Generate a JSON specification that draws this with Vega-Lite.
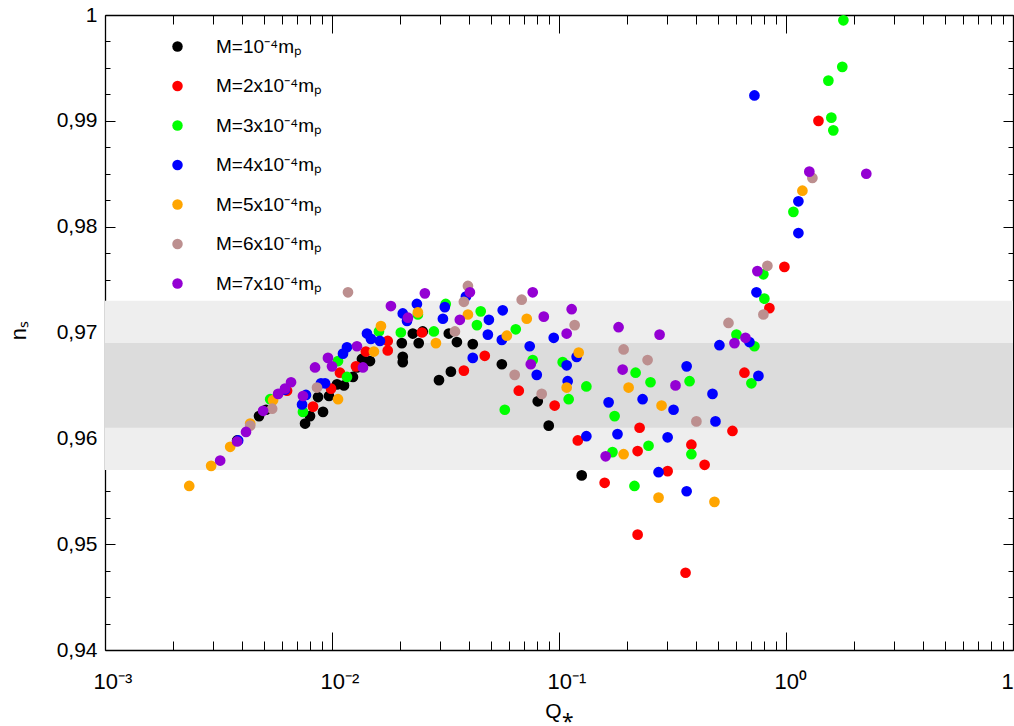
{
  "$schema": "https://vega.github.io/schema/vega-lite/v6.json",
  "width": 908,
  "height": 635,
  "autosize": {"type": "none"},
  "padding": {"left": 105, "top": 15, "right": 1, "bottom": 76},
  "background": "white",
  "config": {
    "view": {"stroke": null},
    "font": "Liberation Sans",
    "axis": {"grid": false, "domainColor": "#000000", "domainWidth": 1.3, "tickColor": "#000000", "tickWidth": 1, "labelColor": "#000000", "titleColor": "#000000", "labelFont": "Liberation Sans", "titleFont": "Liberation Sans", "titleFontWeight": "normal"}
  },
  "datasets": {
    "pts": [
      {"Q": 0.00382, "ns": 0.9598, "M": "M=10⁻⁴mₚ"},
      {"Q": 0.00477, "ns": 0.9621, "M": "M=10⁻⁴mₚ"},
      {"Q": 0.00512, "ns": 0.9627, "M": "M=10⁻⁴mₚ"},
      {"Q": 0.00761, "ns": 0.9614, "M": "M=10⁻⁴mₚ"},
      {"Q": 0.0080, "ns": 0.9621, "M": "M=10⁻⁴mₚ"},
      {"Q": 0.00868, "ns": 0.9639, "M": "M=10⁻⁴mₚ"},
      {"Q": 0.00913, "ns": 0.9625, "M": "M=10⁻⁴mₚ"},
      {"Q": 0.0097, "ns": 0.9640, "M": "M=10⁻⁴mₚ"},
      {"Q": 0.01052, "ns": 0.9651, "M": "M=10⁻⁴mₚ"},
      {"Q": 0.01129, "ns": 0.9650, "M": "M=10⁻⁴mₚ"},
      {"Q": 0.01237, "ns": 0.9658, "M": "M=10⁻⁴mₚ"},
      {"Q": 0.01288, "ns": 0.9667, "M": "M=10⁻⁴mₚ"},
      {"Q": 0.01355, "ns": 0.9675, "M": "M=10⁻⁴mₚ"},
      {"Q": 0.0147, "ns": 0.9673, "M": "M=10⁻⁴mₚ"},
      {"Q": 0.0203, "ns": 0.9690, "M": "M=10⁻⁴mₚ"},
      {"Q": 0.0205, "ns": 0.9677, "M": "M=10⁻⁴mₚ"},
      {"Q": 0.0205, "ns": 0.9672, "M": "M=10⁻⁴mₚ"},
      {"Q": 0.0227, "ns": 0.9699, "M": "M=10⁻⁴mₚ"},
      {"Q": 0.0241, "ns": 0.9690, "M": "M=10⁻⁴mₚ"},
      {"Q": 0.0251, "ns": 0.9701, "M": "M=10⁻⁴mₚ"},
      {"Q": 0.0296, "ns": 0.9655, "M": "M=10⁻⁴mₚ"},
      {"Q": 0.0327, "ns": 0.9699, "M": "M=10⁻⁴mₚ"},
      {"Q": 0.0334, "ns": 0.9663, "M": "M=10⁻⁴mₚ"},
      {"Q": 0.0355, "ns": 0.9691, "M": "M=10⁻⁴mₚ"},
      {"Q": 0.0417, "ns": 0.9689, "M": "M=10⁻⁴mₚ"},
      {"Q": 0.0560, "ns": 0.9670, "M": "M=10⁻⁴mₚ"},
      {"Q": 0.0806, "ns": 0.9635, "M": "M=10⁻⁴mₚ"},
      {"Q": 0.0901, "ns": 0.9612, "M": "M=10⁻⁴mₚ"},
      {"Q": 0.1259, "ns": 0.9565, "M": "M=10⁻⁴mₚ"},

      {"Q": 0.00634, "ns": 0.9645, "M": "M=2x10⁻⁴mₚ"},
      {"Q": 0.00825, "ns": 0.9630, "M": "M=2x10⁻⁴mₚ"},
      {"Q": 0.0099, "ns": 0.9647, "M": "M=2x10⁻⁴mₚ"},
      {"Q": 0.01084, "ns": 0.9662, "M": "M=2x10⁻⁴mₚ"},
      {"Q": 0.01275, "ns": 0.9668, "M": "M=2x10⁻⁴mₚ"},
      {"Q": 0.0141, "ns": 0.9682, "M": "M=2x10⁻⁴mₚ"},
      {"Q": 0.0176, "ns": 0.9692, "M": "M=2x10⁻⁴mₚ"},
      {"Q": 0.0176, "ns": 0.9683, "M": "M=2x10⁻⁴mₚ"},
      {"Q": 0.0249, "ns": 0.9700, "M": "M=2x10⁻⁴mₚ"},
      {"Q": 0.0381, "ns": 0.9664, "M": "M=2x10⁻⁴mₚ"},
      {"Q": 0.0471, "ns": 0.9678, "M": "M=2x10⁻⁴mₚ"},
      {"Q": 0.0665, "ns": 0.9645, "M": "M=2x10⁻⁴mₚ"},
      {"Q": 0.0957, "ns": 0.9631, "M": "M=2x10⁻⁴mₚ"},
      {"Q": 0.121, "ns": 0.9598, "M": "M=2x10⁻⁴mₚ"},
      {"Q": 0.1589, "ns": 0.9558, "M": "M=2x10⁻⁴mₚ"},
      {"Q": 0.222, "ns": 0.9509, "M": "M=2x10⁻⁴mₚ"},
      {"Q": 0.2265, "ns": 0.9610, "M": "M=2x10⁻⁴mₚ"},
      {"Q": 0.222, "ns": 0.9588, "M": "M=2x10⁻⁴mₚ"},
      {"Q": 0.301, "ns": 0.9569, "M": "M=2x10⁻⁴mₚ"},
      {"Q": 0.361, "ns": 0.9473, "M": "M=2x10⁻⁴mₚ"},
      {"Q": 0.383, "ns": 0.9594, "M": "M=2x10⁻⁴mₚ"},
      {"Q": 0.438, "ns": 0.9575, "M": "M=2x10⁻⁴mₚ"},
      {"Q": 0.581, "ns": 0.9607, "M": "M=2x10⁻⁴mₚ"},
      {"Q": 0.656, "ns": 0.9662, "M": "M=2x10⁻⁴mₚ"},
      {"Q": 0.845, "ns": 0.9723, "M": "M=2x10⁻⁴mₚ"},
      {"Q": 0.984, "ns": 0.9762, "M": "M=2x10⁻⁴mₚ"},
      {"Q": 1.39, "ns": 0.9900, "M": "M=2x10⁻⁴mₚ"},

      {"Q": 0.00534, "ns": 0.9637, "M": "M=3x10⁻⁴mₚ"},
      {"Q": 0.00745, "ns": 0.9625, "M": "M=3x10⁻⁴mₚ"},
      {"Q": 0.01063, "ns": 0.9673, "M": "M=3x10⁻⁴mₚ"},
      {"Q": 0.01164, "ns": 0.9658, "M": "M=3x10⁻⁴mₚ"},
      {"Q": 0.0161, "ns": 0.9701, "M": "M=3x10⁻⁴mₚ"},
      {"Q": 0.0201, "ns": 0.9700, "M": "M=3x10⁻⁴mₚ"},
      {"Q": 0.0239, "ns": 0.9717, "M": "M=3x10⁻⁴mₚ"},
      {"Q": 0.0281, "ns": 0.9701, "M": "M=3x10⁻⁴mₚ"},
      {"Q": 0.0317, "ns": 0.9727, "M": "M=3x10⁻⁴mₚ"},
      {"Q": 0.0452, "ns": 0.9720, "M": "M=3x10⁻⁴mₚ"},
      {"Q": 0.0435, "ns": 0.9707, "M": "M=3x10⁻⁴mₚ"},
      {"Q": 0.0645, "ns": 0.9703, "M": "M=3x10⁻⁴mₚ"},
      {"Q": 0.0766, "ns": 0.9674, "M": "M=3x10⁻⁴mₚ"},
      {"Q": 0.1038, "ns": 0.9672, "M": "M=3x10⁻⁴mₚ"},
      {"Q": 0.0577, "ns": 0.9627, "M": "M=3x10⁻⁴mₚ"},
      {"Q": 0.1103, "ns": 0.9637, "M": "M=3x10⁻⁴mₚ"},
      {"Q": 0.132, "ns": 0.9649, "M": "M=3x10⁻⁴mₚ"},
      {"Q": 0.1758, "ns": 0.9621, "M": "M=3x10⁻⁴mₚ"},
      {"Q": 0.172, "ns": 0.9587, "M": "M=3x10⁻⁴mₚ"},
      {"Q": 0.215, "ns": 0.9555, "M": "M=3x10⁻⁴mₚ"},
      {"Q": 0.2175, "ns": 0.9662, "M": "M=3x10⁻⁴mₚ"},
      {"Q": 0.253, "ns": 0.9653, "M": "M=3x10⁻⁴mₚ"},
      {"Q": 0.248, "ns": 0.9593, "M": "M=3x10⁻⁴mₚ"},
      {"Q": 0.376, "ns": 0.9654, "M": "M=3x10⁻⁴mₚ"},
      {"Q": 0.383, "ns": 0.9585, "M": "M=3x10⁻⁴mₚ"},
      {"Q": 0.605, "ns": 0.9698, "M": "M=3x10⁻⁴mₚ"},
      {"Q": 0.726, "ns": 0.9687, "M": "M=3x10⁻⁴mₚ"},
      {"Q": 0.704, "ns": 0.9652, "M": "M=3x10⁻⁴mₚ"},
      {"Q": 0.795, "ns": 0.9755, "M": "M=3x10⁻⁴mₚ"},
      {"Q": 0.803, "ns": 0.9732, "M": "M=3x10⁻⁴mₚ"},
      {"Q": 1.078, "ns": 0.9814, "M": "M=3x10⁻⁴mₚ"},
      {"Q": 1.537, "ns": 0.9938, "M": "M=3x10⁻⁴mₚ"},
      {"Q": 1.584, "ns": 0.9903, "M": "M=3x10⁻⁴mₚ"},
      {"Q": 1.616, "ns": 0.9891, "M": "M=3x10⁻⁴mₚ"},
      {"Q": 1.77, "ns": 0.9951, "M": "M=3x10⁻⁴mₚ"},
      {"Q": 1.79, "ns": 0.9995, "M": "M=3x10⁻⁴mₚ"},

      {"Q": 0.00386, "ns": 0.9598, "M": "M=4x10⁻⁴mₚ"},
      {"Q": 0.00621, "ns": 0.9646, "M": "M=4x10⁻⁴mₚ"},
      {"Q": 0.00738, "ns": 0.9632, "M": "M=4x10⁻⁴mₚ"},
      {"Q": 0.00768, "ns": 0.9641, "M": "M=4x10⁻⁴mₚ"},
      {"Q": 0.00894, "ns": 0.9652, "M": "M=4x10⁻⁴mₚ"},
      {"Q": 0.00932, "ns": 0.9652, "M": "M=4x10⁻⁴mₚ"},
      {"Q": 0.01118, "ns": 0.9680, "M": "M=4x10⁻⁴mₚ"},
      {"Q": 0.01164, "ns": 0.9686, "M": "M=4x10⁻⁴mₚ"},
      {"Q": 0.01426, "ns": 0.9699, "M": "M=4x10⁻⁴mₚ"},
      {"Q": 0.01484, "ns": 0.9694, "M": "M=4x10⁻⁴mₚ"},
      {"Q": 0.01626, "ns": 0.9692, "M": "M=4x10⁻⁴mₚ"},
      {"Q": 0.0205, "ns": 0.9718, "M": "M=4x10⁻⁴mₚ"},
      {"Q": 0.0214, "ns": 0.9711, "M": "M=4x10⁻⁴mₚ"},
      {"Q": 0.02366, "ns": 0.9727, "M": "M=4x10⁻⁴mₚ"},
      {"Q": 0.0308, "ns": 0.9713, "M": "M=4x10⁻⁴mₚ"},
      {"Q": 0.0314, "ns": 0.9724, "M": "M=4x10⁻⁴mₚ"},
      {"Q": 0.0389, "ns": 0.9734, "M": "M=4x10⁻⁴mₚ"},
      {"Q": 0.0491, "ns": 0.9712, "M": "M=4x10⁻⁴mₚ"},
      {"Q": 0.0486, "ns": 0.9698, "M": "M=4x10⁻⁴mₚ"},
      {"Q": 0.0417, "ns": 0.9676, "M": "M=4x10⁻⁴mₚ"},
      {"Q": 0.0565, "ns": 0.9721, "M": "M=4x10⁻⁴mₚ"},
      {"Q": 0.0560, "ns": 0.9693, "M": "M=4x10⁻⁴mₚ"},
      {"Q": 0.0743, "ns": 0.9687, "M": "M=4x10⁻⁴mₚ"},
      {"Q": 0.0948, "ns": 0.9695, "M": "M=4x10⁻⁴mₚ"},
      {"Q": 0.0798, "ns": 0.9660, "M": "M=4x10⁻⁴mₚ"},
      {"Q": 0.1081, "ns": 0.9669, "M": "M=4x10⁻⁴mₚ"},
      {"Q": 0.1196, "ns": 0.9677, "M": "M=4x10⁻⁴mₚ"},
      {"Q": 0.1092, "ns": 0.9654, "M": "M=4x10⁻⁴mₚ"},
      {"Q": 0.132, "ns": 0.9602, "M": "M=4x10⁻⁴mₚ"},
      {"Q": 0.1654, "ns": 0.9634, "M": "M=4x10⁻⁴mₚ"},
      {"Q": 0.181, "ns": 0.9604, "M": "M=4x10⁻⁴mₚ"},
      {"Q": 0.2335, "ns": 0.9637, "M": "M=4x10⁻⁴mₚ"},
      {"Q": 0.301, "ns": 0.9601, "M": "M=4x10⁻⁴mₚ"},
      {"Q": 0.3196, "ns": 0.9627, "M": "M=4x10⁻⁴mₚ"},
      {"Q": 0.365, "ns": 0.9668, "M": "M=4x10⁻⁴mₚ"},
      {"Q": 0.2745, "ns": 0.9568, "M": "M=4x10⁻⁴mₚ"},
      {"Q": 0.365, "ns": 0.9550, "M": "M=4x10⁻⁴mₚ"},
      {"Q": 0.4745, "ns": 0.9642, "M": "M=4x10⁻⁴mₚ"},
      {"Q": 0.489, "ns": 0.9616, "M": "M=4x10⁻⁴mₚ"},
      {"Q": 0.509, "ns": 0.9688, "M": "M=4x10⁻⁴mₚ"},
      {"Q": 0.690, "ns": 0.9691, "M": "M=4x10⁻⁴mₚ"},
      {"Q": 0.756, "ns": 0.9659, "M": "M=4x10⁻⁴mₚ"},
      {"Q": 0.741, "ns": 0.9738, "M": "M=4x10⁻⁴mₚ"},
      {"Q": 0.726, "ns": 0.9924, "M": "M=4x10⁻⁴mₚ"},
      {"Q": 1.134, "ns": 0.9824, "M": "M=4x10⁻⁴mₚ"},
      {"Q": 1.134, "ns": 0.9794, "M": "M=4x10⁻⁴mₚ"},

      {"Q": 0.00235, "ns": 0.9555, "M": "M=5x10⁻⁴mₚ"},
      {"Q": 0.002935, "ns": 0.9574, "M": "M=5x10⁻⁴mₚ"},
      {"Q": 0.00356, "ns": 0.9592, "M": "M=5x10⁻⁴mₚ"},
      {"Q": 0.00436, "ns": 0.9614, "M": "M=5x10⁻⁴mₚ"},
      {"Q": 0.0055, "ns": 0.9636, "M": "M=5x10⁻⁴mₚ"},
      {"Q": 0.01063, "ns": 0.9637, "M": "M=5x10⁻⁴mₚ"},
      {"Q": 0.0153, "ns": 0.9682, "M": "M=5x10⁻⁴mₚ"},
      {"Q": 0.01643, "ns": 0.9706, "M": "M=5x10⁻⁴mₚ"},
      {"Q": 0.0239, "ns": 0.9719, "M": "M=5x10⁻⁴mₚ"},
      {"Q": 0.0287, "ns": 0.9690, "M": "M=5x10⁻⁴mₚ"},
      {"Q": 0.0397, "ns": 0.9717, "M": "M=5x10⁻⁴mₚ"},
      {"Q": 0.0589, "ns": 0.9697, "M": "M=5x10⁻⁴mₚ"},
      {"Q": 0.0721, "ns": 0.9713, "M": "M=5x10⁻⁴mₚ"},
      {"Q": 0.1221, "ns": 0.9681, "M": "M=5x10⁻⁴mₚ"},
      {"Q": 0.1081, "ns": 0.9648, "M": "M=5x10⁻⁴mₚ"},
      {"Q": 0.2026, "ns": 0.9648, "M": "M=5x10⁻⁴mₚ"},
      {"Q": 0.1926, "ns": 0.9585, "M": "M=5x10⁻⁴mₚ"},
      {"Q": 0.283, "ns": 0.9631, "M": "M=5x10⁻⁴mₚ"},
      {"Q": 0.2745, "ns": 0.9544, "M": "M=5x10⁻⁴mₚ"},
      {"Q": 0.484, "ns": 0.9540, "M": "M=5x10⁻⁴mₚ"},
      {"Q": 1.181, "ns": 0.9834, "M": "M=5x10⁻⁴mₚ"},

      {"Q": 0.00436, "ns": 0.9612, "M": "M=6x10⁻⁴mₚ"},
      {"Q": 0.00545, "ns": 0.9628, "M": "M=6x10⁻⁴mₚ"},
      {"Q": 0.00859, "ns": 0.9648, "M": "M=6x10⁻⁴mₚ"},
      {"Q": 0.01176, "ns": 0.9738, "M": "M=6x10⁻⁴mₚ"},
      {"Q": 0.0348, "ns": 0.9701, "M": "M=6x10⁻⁴mₚ"},
      {"Q": 0.0381, "ns": 0.9729, "M": "M=6x10⁻⁴mₚ"},
      {"Q": 0.0397, "ns": 0.9744, "M": "M=6x10⁻⁴mₚ"},
      {"Q": 0.0685, "ns": 0.9731, "M": "M=6x10⁻⁴mₚ"},
      {"Q": 0.1172, "ns": 0.9707, "M": "M=6x10⁻⁴mₚ"},
      {"Q": 0.0638, "ns": 0.9660, "M": "M=6x10⁻⁴mₚ"},
      {"Q": 0.0839, "ns": 0.9642, "M": "M=6x10⁻⁴mₚ"},
      {"Q": 0.1926, "ns": 0.9684, "M": "M=6x10⁻⁴mₚ"},
      {"Q": 0.2456, "ns": 0.9674, "M": "M=6x10⁻⁴mₚ"},
      {"Q": 0.403, "ns": 0.9616, "M": "M=6x10⁻⁴mₚ"},
      {"Q": 0.558, "ns": 0.9709, "M": "M=6x10⁻⁴mₚ"},
      {"Q": 0.795, "ns": 0.9717, "M": "M=6x10⁻⁴mₚ"},
      {"Q": 0.828, "ns": 0.9763, "M": "M=6x10⁻⁴mₚ"},
      {"Q": 1.307, "ns": 0.9846, "M": "M=6x10⁻⁴mₚ"},

      {"Q": 0.003216, "ns": 0.9579, "M": "M=7x10⁻⁴mₚ"},
      {"Q": 0.00382, "ns": 0.9597, "M": "M=7x10⁻⁴mₚ"},
      {"Q": 0.00418, "ns": 0.9606, "M": "M=7x10⁻⁴mₚ"},
      {"Q": 0.00497, "ns": 0.9626, "M": "M=7x10⁻⁴mₚ"},
      {"Q": 0.00579, "ns": 0.9642, "M": "M=7x10⁻⁴mₚ"},
      {"Q": 0.00621, "ns": 0.9647, "M": "M=7x10⁻⁴mₚ"},
      {"Q": 0.0066, "ns": 0.9653, "M": "M=7x10⁻⁴mₚ"},
      {"Q": 0.00745, "ns": 0.9640, "M": "M=7x10⁻⁴mₚ"},
      {"Q": 0.00842, "ns": 0.9667, "M": "M=7x10⁻⁴mₚ"},
      {"Q": 0.0096, "ns": 0.9676, "M": "M=7x10⁻⁴mₚ"},
      {"Q": 0.0100, "ns": 0.9668, "M": "M=7x10⁻⁴mₚ"},
      {"Q": 0.01288, "ns": 0.9687, "M": "M=7x10⁻⁴mₚ"},
      {"Q": 0.01369, "ns": 0.9667, "M": "M=7x10⁻⁴mₚ"},
      {"Q": 0.01818, "ns": 0.9725, "M": "M=7x10⁻⁴mₚ"},
      {"Q": 0.0216, "ns": 0.9714, "M": "M=7x10⁻⁴mₚ"},
      {"Q": 0.02565, "ns": 0.9737, "M": "M=7x10⁻⁴mₚ"},
      {"Q": 0.03657, "ns": 0.9712, "M": "M=7x10⁻⁴mₚ"},
      {"Q": 0.0405, "ns": 0.9738, "M": "M=7x10⁻⁴mₚ"},
      {"Q": 0.0751, "ns": 0.9670, "M": "M=7x10⁻⁴mₚ"},
      {"Q": 0.0766, "ns": 0.9738, "M": "M=7x10⁻⁴mₚ"},
      {"Q": 0.0857, "ns": 0.9715, "M": "M=7x10⁻⁴mₚ"},
      {"Q": 0.1081, "ns": 0.9699, "M": "M=7x10⁻⁴mₚ"},
      {"Q": 0.1137, "ns": 0.9722, "M": "M=7x10⁻⁴mₚ"},
      {"Q": 0.1605, "ns": 0.9583, "M": "M=7x10⁻⁴mₚ"},
      {"Q": 0.183, "ns": 0.9705, "M": "M=7x10⁻⁴mₚ"},
      {"Q": 0.1907, "ns": 0.9665, "M": "M=7x10⁻⁴mₚ"},
      {"Q": 0.2774, "ns": 0.9698, "M": "M=7x10⁻⁴mₚ"},
      {"Q": 0.326, "ns": 0.9650, "M": "M=7x10⁻⁴mₚ"},
      {"Q": 0.593, "ns": 0.9690, "M": "M=7x10⁻⁴mₚ"},
      {"Q": 0.663, "ns": 0.9695, "M": "M=7x10⁻⁴mₚ"},
      {"Q": 0.748, "ns": 0.9758, "M": "M=7x10⁻⁴mₚ"},
      {"Q": 1.267, "ns": 0.9852, "M": "M=7x10⁻⁴mₚ"},
      {"Q": 2.258, "ns": 0.9850, "M": "M=7x10⁻⁴mₚ"}
    ]
  },
  "layer": [
    {
      "data": {"values": [{"lo": 0.957, "hi": 0.973}]},
      "mark": {"type": "rect", "color": "#eeeeee"},
      "encoding": {
        "y": {"field": "lo", "type": "quantitative", "scale": {"domain": [0.94, 1], "nice": false, "zero": false}, "axis": null},
        "y2": {"field": "hi"}
      }
    },
    {
      "data": {"values": [{"lo": 0.961, "hi": 0.969}]},
      "mark": {"type": "rect", "color": "#dcdcdc"},
      "encoding": {
        "y": {"field": "lo", "type": "quantitative", "scale": {"domain": [0.94, 1], "nice": false, "zero": false}, "axis": null},
        "y2": {"field": "hi"}
      }
    },
    {
      "data": {"name": "pts"},
      "mark": {"type": "circle", "size": 115, "opacity": 1},
      "encoding": {
        "x": {
          "field": "Q", "type": "quantitative",
          "scale": {"type": "log", "domain": [0.001, 10], "nice": false, "zero": false},
          "axis": {
            "orient": "bottom",
            "values": [0.001, 0.002, 0.003, 0.004, 0.005, 0.006, 0.007, 0.008, 0.009, 0.01, 0.02, 0.03, 0.04, 0.05, 0.06, 0.07, 0.08, 0.09, 0.1, 0.2, 0.3, 0.4, 0.5, 0.6, 0.7, 0.8, 0.9, 1, 2, 3, 4, 5, 6, 7, 8, 9, 10],
            "labelExpr": "abs(log(datum.value)/LN10 - round(log(datum.value)/LN10)) < 0.001 ? (round(log(datum.value)/LN10) == -3 ? '10⁻³' : round(log(datum.value)/LN10) == -2 ? '10⁻²' : round(log(datum.value)/LN10) == -1 ? '10⁻¹' : round(log(datum.value)/LN10) == 0 ? '10⁰' : '10¹') : ''",
            "tickSize": {"condition": {"test": "abs(log(datum.value)/LN10 - round(log(datum.value)/LN10)) < 0.001", "value": -18}, "value": -9},
            "labelFontSize": 22,
            "labelPadding": 39,
            "labelAlign": "left",
            "labelOffset": -12,
            "labelOverlap": false,
            "labelFlush": false,
            "title": "Q⁎",
            "titleFontSize": 21,
            "titleX": 454,
            "titleY": 61,
            "titleBaseline": "middle"
          }
        },
        "y": {
          "field": "ns", "type": "quantitative",
          "scale": {"domain": [0.94, 1], "nice": false, "zero": false},
          "axis": {
            "orient": "left",
            "values": [0.94, 0.9425, 0.945, 0.9475, 0.95, 0.9525, 0.955, 0.9575, 0.96, 0.9625, 0.965, 0.9675, 0.97, 0.9725, 0.975, 0.9775, 0.98, 0.9825, 0.985, 0.9875, 0.99, 0.9925, 0.995, 0.9975, 1],
            "labelExpr": "abs(datum.value*100 - round(datum.value*100)) < 0.01 ? replace(format(datum.value, '.2~f'), '.', ',') : ''",
            "tickSize": {"condition": {"test": "abs(datum.value*100 - round(datum.value*100)) < 0.01", "value": -10}, "value": -5},
            "labelFontSize": 21,
            "labelPadding": 18,
            "labelOverlap": false,
            "labelFlush": false,
            "title": "nₛ",
            "titleFontSize": 22,
            "titleAngle": -90,
            "titleX": -87,
            "titleY": 315,
            "titleAlign": "center",
            "titleBaseline": "middle"
          }
        },
        "color": {
          "field": "M", "type": "nominal",
          "scale": {
            "domain": ["M=10⁻⁴mₚ", "M=2x10⁻⁴mₚ", "M=3x10⁻⁴mₚ", "M=4x10⁻⁴mₚ", "M=5x10⁻⁴mₚ", "M=6x10⁻⁴mₚ", "M=7x10⁻⁴mₚ"],
            "range": ["#000000", "#ff0000", "#00ff00", "#0000ff", "#ffa500", "#bc8f8f", "#9400d3"]
          },
          "legend": {
            "orient": "none", "legendX": 63, "legendY": 22, "title": null, "padding": 0,
            "symbolType": "circle", "symbolSize": 110, "symbolStrokeWidth": 0, "symbolOpacity": 1,
            "labelFontSize": 19, "labelFont": "Liberation Sans", "labelColor": "#000000",
            "rowPadding": 19.5, "labelOffset": 29
          }
        }
      }
    },
    {
      "data": {"name": "pts"},
      "mark": {"type": "circle", "opacity": 0},
      "encoding": {
        "x": {
          "field": "Q", "type": "quantitative",
          "scale": {"type": "log", "domain": [0.001, 10], "nice": false, "zero": false},
          "axis": {
            "orient": "top",
            "values": [0.001, 0.002, 0.003, 0.004, 0.005, 0.006, 0.007, 0.008, 0.009, 0.01, 0.02, 0.03, 0.04, 0.05, 0.06, 0.07, 0.08, 0.09, 0.1, 0.2, 0.3, 0.4, 0.5, 0.6, 0.7, 0.8, 0.9, 1, 2, 3, 4, 5, 6, 7, 8, 9, 10],
            "labels": false,
            "title": null,
            "tickSize": {"condition": {"test": "abs(log(datum.value)/LN10 - round(log(datum.value)/LN10)) < 0.001", "value": -18}, "value": -9}
          }
        },
        "y": {
          "field": "ns", "type": "quantitative",
          "scale": {"domain": [0.94, 1], "nice": false, "zero": false},
          "axis": {
            "orient": "right",
            "values": [0.94, 0.9425, 0.945, 0.9475, 0.95, 0.9525, 0.955, 0.9575, 0.96, 0.9625, 0.965, 0.9675, 0.97, 0.9725, 0.975, 0.9775, 0.98, 0.9825, 0.985, 0.9875, 0.99, 0.9925, 0.995, 0.9975, 1],
            "labels": false,
            "title": null,
            "tickSize": {"condition": {"test": "abs(datum.value*100 - round(datum.value*100)) < 0.01", "value": -10}, "value": -5}
          }
        }
      }
    }
  ],
  "resolve": {"axis": {"x": "independent", "y": "independent"}}
}
